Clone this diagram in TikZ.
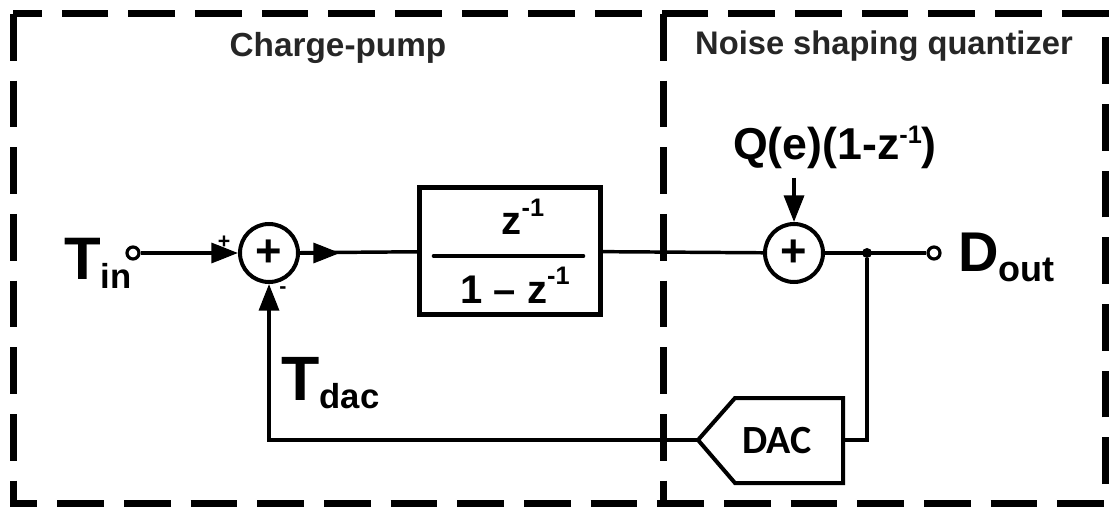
\documentclass[tikz,border=0pt]{standalone}
\usepackage{fontspec}
\setmainfont{Liberation Sans}
\newfontfamily\dacfont{Carlito}
\usetikzlibrary{arrows.meta}
\definecolor{titlegrey}{HTML}{262626}
% raised (or lowered) text at a given size
\newcommand{\shifted}[3]{\raisebox{#1}{\fontsize{#2}{#2}\selectfont #3}}

\begin{document}
\begin{tikzpicture}[
  x=0.75pt, y=-0.75pt,
  font=\bfseries,
  >={Triangle[length=20pt,width=15pt]},
  wire/.style={line width=2.6pt},
  arr/.style={wire, ->},
  frame/.style={line width=5.25pt, dash pattern=on 35pt off 15pt},
  sumnode/.style={
    circle, draw, line width=3pt,
    minimum size=43.5pt, inner sep=0pt,
    font=\bfseries\fontsize{34}{34}\selectfont
  },
  port/.style={circle, draw, fill=white, line width=2.4pt, minimum size=9pt, inner sep=0pt},
  junction/.style={circle, fill, minimum size=7.5pt, inner sep=0pt},
  tfbox/.style={draw, line width=3.75pt, minimum width=135.75pt, minimum height=95.25pt},
  tftext/.style={font=\bfseries\fontsize{30}{30}\selectfont, inner sep=0pt},
  title/.style={font=\bfseries\fontsize{25}{25}\selectfont, text=titlegrey, inner sep=0pt},
  biglbl/.style={inner sep=0pt},
  sign/.style={font=\bfseries\fontsize{16}{16}\selectfont, inner sep=0pt}
]
\useasboundingbox (0,0) rectangle (1112,509);

% --- frames ---
\draw[frame] (13,14) rectangle (1105,503);
\draw[frame] (663,14) -- (663,503);
\node[title, anchor=base] (cplbl) at (338,57) {Charge-pump};
\node[title, anchor=base, font=\bfseries\fontsize{24.5}{24.5}\selectfont] (nsqlbl) at (884,55) {Noise shaping quantizer};

% --- forward path ---
\node[port] (tin) at (133,253) {};
\node[biglbl, anchor=base west, font=\bfseries\fontsize{45}{45}\selectfont] (tinlbl) at (64,280)
  {T\shifted{-6pt}{26}{in}};
\node[sumnode] (s1) at (269,253) {+};
\node[sign] (plus1) at (224,242) {+};
\node[sign] (minus1) at (283,290) {-};

\node[tfbox] (integ) at (510,251) {};
\node[tftext, anchor=base] (num) at (523,235) {z\shifted{14pt}{19}{-1}};
\node[tftext, anchor=base] (den) at (515,303) {1 – z\shifted{14pt}{19}{-1}};
\draw[line width=3.5pt, line cap=round] (434,256) -- (583,256);

\node[sumnode] (s2) at (794,253) {+};
\node[biglbl, anchor=base, font=\bfseries\fontsize{33.5}{33.5}\selectfont] (qlbl) at (835,160)
  {Q(e)(1-z\shifted{12pt}{19}{-1})};
\node[junction] (dot) at (867,253) {};
\node[port] (tout) at (934,253) {};
\node[biglbl, anchor=base west, font=\bfseries\fontsize{42}{42}\selectfont] (doutlbl) at (958,272)
  {D\shifted{-7.5pt}{27}{out}};

\draw[arr] (tin) -- (s1);
\draw[wire] (s1) -- (integ);
\draw[arr] (s1.east) -- ++(40,0);
\draw[wire] (integ) -- (s2);
\draw[arr] (s2.north |- qlbl.south) ++(0,8) -- (s2.north);
\draw[wire] (s2) -- (tout);

% --- feedback DAC ---
\node[font=\dacfont\bfseries\fontsize{30}{30}\selectfont, inner sep=0pt] (dac) at (777,441) {DAC};
\coordinate (dacR) at (843,440);
\coordinate (dacL) at (698,440);
\draw[line width=3pt, line join=miter] (843,398) -- (735,398) -- (dacL) -- (735,483) -- (843,483) -- cycle;
\draw[wire] (dot) |- (dacR);
\draw[arr] (dacL) -| (s1.south);
\node[biglbl, anchor=base west, font=\bfseries\fontsize{47}{47}\selectfont] (tdaclbl) at (281,400)
  {T\shifted{-6pt}{26}{dac}};

\end{tikzpicture}
\end{document}
